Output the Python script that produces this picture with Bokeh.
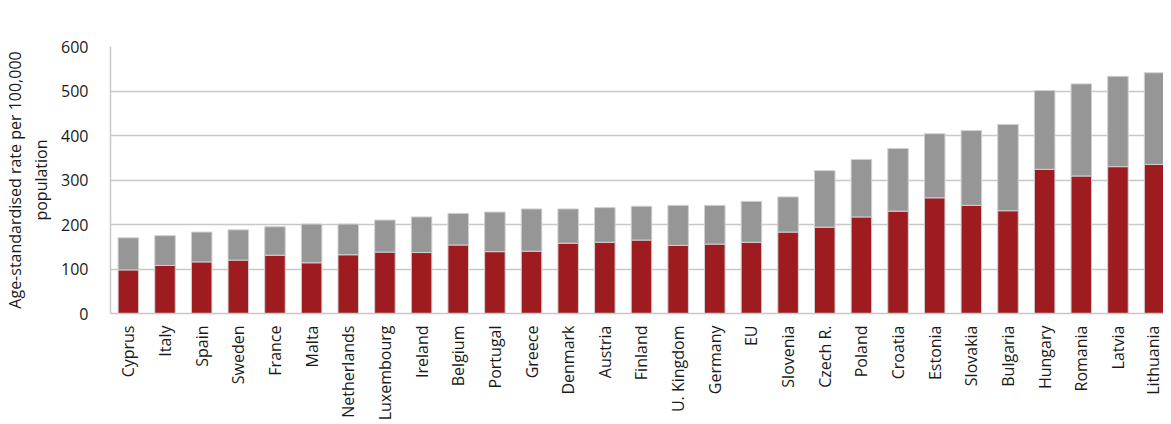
import math
from bokeh.plotting import figure
from bokeh.models import Range1d, FixedTicker, Legend, LegendItem
from bokeh.embed import file_html
from bokeh.resources import INLINE

countries = ["Cyprus", "Italy", "Spain", "Sweden", "France", "Malta", "Netherlands",
             "Luxembourg", "Ireland", "Belgium", "Portugal", "Greece", "Denmark",
             "Austria", "Finland", "U. Kingdom", "Germany", "EU", "Slovenia",
             "Czech R.", "Poland", "Croatia", "Estonia", "Slovakia", "Bulgaria",
             "Hungary", "Romania", "Latvia", "Lithuania"]
preventable = [98, 108, 116, 120, 131, 114, 132, 138, 137, 154, 139, 140, 158, 160,
               165, 153, 156, 160, 183, 194, 217, 230, 260, 243, 231, 324, 309, 330, 335]
treatable = [72, 67, 67, 68, 64, 87, 69, 72, 80, 71, 89, 95, 77, 78, 76, 90, 87, 92,
             79, 127, 129, 141, 144, 168, 194, 177, 207, 203, 206]
y_ticks = [0, 100, 200, 300, 400, 500, 600]

RED = "#9E1B20"
GREY = "#969696"
GRID = "#C8C8C8"
TXT = "#1a1a1a"
FONT = "Open Sans"

FRAME_W, FRAME_H = 1061, 269
STEP = 36.93                      # px per category
Y_MAX = 600

xs = list(range(1, len(countries) + 1))
data = dict(x=xs, preventable=preventable, treatable=treatable)

x0 = 1 - 18 / STEP
p = figure(width=1163, height=423, output_backend="svg", toolbar_location=None,
           x_range=Range1d(x0, x0 + FRAME_W / STEP), y_range=Range1d(0, Y_MAX),
           min_border_left=102, min_border_right=0, min_border_top=46,
           min_border_bottom=108)
p.outline_line_color = None

rs = p.vbar_stack(["preventable", "treatable"], x="x", width=0.56, source=data,
                  color=[RED, GREY], line_color="#D0D0D0", line_width=1)

legend = Legend(items=[LegendItem(label="Preventable mortaliy", renderers=[rs[0]]),
                       LegendItem(label="Treatable mortality", renderers=[rs[1]])],
                orientation="horizontal", location=(-1, 283))
legend.glyph_width = 12
legend.glyph_height = 12
legend.label_text_font = FONT
legend.label_text_font_size = "17px"
legend.label_text_color = TXT
legend.label_standoff = 3
legend.spacing = 33
legend.padding = 0
legend.margin = 0
legend.border_line_color = None
legend.background_fill_alpha = 0
p.add_layout(legend, "center")

p.xgrid.grid_line_color = None
p.ygrid.grid_line_color = GRID
p.ygrid.grid_line_width = 1.5

p.yaxis.ticker = FixedTicker(ticks=y_ticks)
p.yaxis.major_tick_line_color = None
p.yaxis.minor_tick_line_color = None
p.yaxis.axis_line_color = GRID
p.yaxis.axis_line_width = 1.5
p.yaxis.major_label_text_font = FONT
p.yaxis.major_label_text_font_size = "16px"
p.yaxis.major_label_text_color = TXT
p.yaxis.major_label_standoff = 16
p.yaxis.axis_label = "Age-standardised rate per 100,000\npopulation"
p.yaxis.axis_label_text_font = FONT
p.yaxis.axis_label_text_font_size = "16px"
p.yaxis.axis_label_text_font_style = "normal"
p.yaxis.axis_label_text_color = TXT
p.yaxis.axis_label_standoff = 6

p.xaxis.ticker = FixedTicker(ticks=xs)
p.xaxis.major_label_overrides = {x: c for x, c in zip(xs, countries)}
p.xaxis.major_label_orientation = math.pi / 2
p.xaxis.major_tick_line_color = None
p.xaxis.minor_tick_line_color = None
p.xaxis.major_tick_out = 0
p.xaxis.major_tick_in = 0
p.xaxis.axis_line_color = GRID
p.xaxis.axis_line_width = 1.5
p.xaxis.major_label_text_font = FONT
p.xaxis.major_label_text_font_size = "16px"
p.xaxis.major_label_text_color = TXT
p.xaxis.major_label_standoff = 12

open("out.html", "w").write(file_html(p, INLINE))
